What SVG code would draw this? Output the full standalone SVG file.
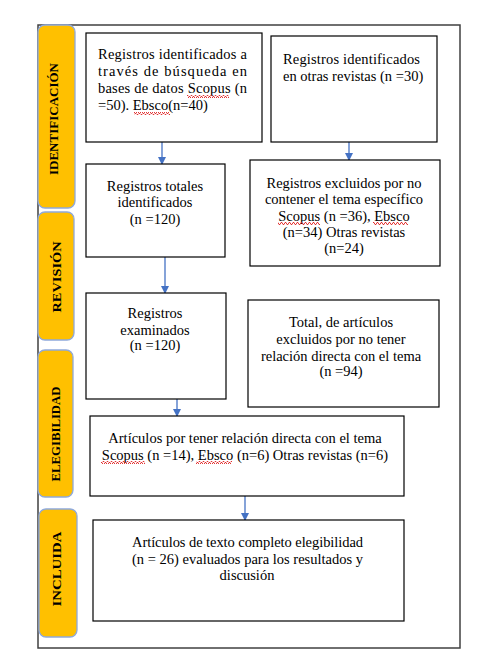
<svg xmlns="http://www.w3.org/2000/svg" width="487" height="661" viewBox="0 0 487 661">
<defs>
<style>
.frame{fill:none;stroke:#404040;stroke-width:1.5}
.tab{fill:#FFC000;stroke:#8EA9DB;stroke-width:1.3}
.tabt{font-family:"Liberation Serif","Times New Roman",serif;font-weight:bold;font-size:13px;fill:#000;text-anchor:middle}
.box{fill:#fff;stroke:#000;stroke-width:1.2}
.t{font-family:"Liberation Serif","Times New Roman",serif;font-size:14.5px;fill:#000}
.c{text-anchor:middle}
.conn{stroke:#4472C4;stroke-width:1.3;fill:none}
.sq{fill:url(#wave)}
</style>
<pattern id="wave" width="4" height="3" patternUnits="userSpaceOnUse">
<path d="M0,2.5 L1,0.5 L2,0.5 L3,2.5 L4,2.5" fill="none" stroke="#E02020" stroke-width="0.9"/>
</pattern>
<marker id="ah" markerWidth="8" markerHeight="8" refX="7" refY="4" orient="auto" markerUnits="userSpaceOnUse">
<path d="M0,0 L8,4 L0,8 Z" fill="#4472C4"/>
</marker>
</defs>
<rect width="487" height="661" fill="#fff"/>
<rect class="frame" x="38" y="25" width="422" height="623"/>

<g id="tab-identificacion">
<rect class="tab" x="38" y="25" width="37" height="183" rx="7"/>
<text class="tabt" transform="translate(58,119) rotate(-90)" textLength="112" lengthAdjust="spacingAndGlyphs">IDENTIFICACIÓN</text>
</g>
<g id="tab-revision">
<rect class="tab" x="38" y="212" width="36" height="128" rx="7"/>
<text class="tabt" transform="translate(61,277) rotate(-90)" textLength="71" lengthAdjust="spacingAndGlyphs">REVISIÓN</text>
</g>
<g id="tab-elegibilidad">
<rect class="tab" x="38" y="350" width="35" height="147" rx="7"/>
<text class="tabt" transform="translate(60,434) rotate(-90)" textLength="95" lengthAdjust="spacingAndGlyphs">ELEGIBILIDAD</text>
</g>
<g id="tab-incluida">
<rect class="tab" x="39" y="509" width="38" height="128" rx="7"/>
<text class="tabt" transform="translate(61,569) rotate(-90)" textLength="75" lengthAdjust="spacingAndGlyphs">INCLUIDA</text>
</g>

<g id="connectors">
<line class="conn" x1="162" y1="142" x2="162" y2="164" marker-end="url(#ah)"/>
<line class="conn" x1="349" y1="142" x2="349" y2="160" marker-end="url(#ah)"/>
<line class="conn" x1="165" y1="257" x2="165" y2="293" marker-end="url(#ah)"/>
<line class="conn" x1="177" y1="399" x2="177" y2="416" marker-end="url(#ah)"/>
<line class="conn" x1="245" y1="496" x2="245" y2="520" marker-end="url(#ah)"/>
</g>

<g id="box1">
<rect class="box" x="86" y="33" width="176" height="109"/>
<text class="t" x="98" y="59" textLength="149" lengthAdjust="spacing">Registros identificados a</text>
<text class="t" x="98" y="76" textLength="149" lengthAdjust="spacing">través de búsqueda en</text>
<text class="t" x="98" y="93" textLength="149" lengthAdjust="spacing">bases de datos Scopus (n</text>
<text class="t" x="98" y="110">=50). Ebsco(n=40)</text>
<rect class="sq" x="187" y="95" width="42" height="3"/>
<rect class="sq" x="134" y="112" width="36" height="3"/>
</g>
<g id="box2">
<rect class="box" x="271" y="36" width="166" height="106"/>
<text class="t" x="283" y="64" textLength="137" lengthAdjust="spacing">Registros  identificados</text>
<text class="t" x="283" y="81">en otras revistas (n =30)</text>
</g>
<g id="box3">
<rect class="box" x="86" y="164" width="139" height="93"/>
<text class="t c" x="155" y="191">Registros totales</text>
<text class="t c" x="155" y="207">identificados</text>
<text class="t c" x="155" y="224">(n =120)</text>
</g>
<g id="box4">
<rect class="box" x="250" y="160" width="190" height="106"/>
<text class="t c" x="344" y="188">Registros excluidos por no</text>
<text class="t c" x="344" y="204">contener el tema específico</text>
<text class="t c" x="344" y="221">Scopus (n =36), Ebsco</text>
<text class="t c" x="344" y="237">(n=34) Otras revistas</text>
<text class="t c" x="344" y="253">(n=24)</text>
<rect class="sq" x="278" y="222" width="42" height="3"/>
<rect class="sq" x="373" y="222" width="35" height="3"/>
</g>
<g id="box5">
<rect class="box" x="86" y="293" width="140" height="106"/>
<text class="t c" x="155" y="318">Registros</text>
<text class="t c" x="155" y="335">examinados</text>
<text class="t c" x="155" y="350">(n =120)</text>
</g>
<g id="box6">
<rect class="box" x="248" y="300" width="191" height="107"/>
<text class="t c" x="341" y="327">Total, de artículos</text>
<text class="t c" x="341" y="344">excluidos por no tener</text>
<text class="t c" x="341" y="361">relación directa con el tema</text>
<text class="t c" x="341" y="376">(n =94)</text>
</g>
<g id="box7">
<rect class="box" x="90" y="416" width="314" height="80"/>
<text class="t c" x="245" y="443">Artículos por tener relación directa con el tema</text>
<text class="t c" x="245" y="460">Scopus (n =14), Ebsco (n=6) Otras revistas (n=6)</text>
<rect class="sq" x="101" y="461" width="44" height="3"/>
<rect class="sq" x="196" y="461" width="36" height="3"/>
</g>
<g id="box8">
<rect class="box" x="93" y="520" width="311" height="101"/>
<text class="t" x="132" y="547" textLength="231" lengthAdjust="spacing">Artículos de texto completo elegibilidad</text>
<text class="t" x="132" y="564" textLength="231" lengthAdjust="spacing">(n = 26) evaluados para los resultados y</text>
<text class="t c" x="247" y="580">discusión</text>
</g>
</svg>
